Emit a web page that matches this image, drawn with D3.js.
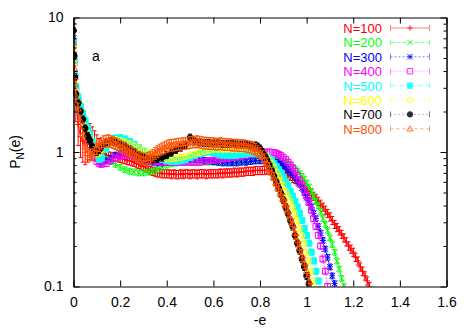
<!DOCTYPE html>
<html>
<head>
<meta charset="utf-8">
<script src="https://cdn.jsdelivr.net/npm/d3@7"></script>
<style>
body { margin: 0; background: #fff; }
text { font-family: "Liberation Sans", Arial, sans-serif; }
</style>
</head>
<body>
<svg id="chart" width="471" height="330"></svg>
<script>
// [e, P] pairs; optional third value = relative error
var n100 = [[0,9],[0.003,5.5],[0.006,3.5],[0.01,2.4,0.3],[0.02,1.6,0.3],[0.03,1.3,0.3],[0.04,1.2,0.3],[0.05,1.15,0.3],[0.06,1.2,0.3],[0.07,1.25,0.3],[0.08,1.2,0.28],[0.09,1.15,0.25],[0.10,1.1,0.22],[0.11,1.05,0.2],[0.12,1.0,0.15],
    [0.13,0.97],[0.14,0.95],[0.15,0.94],[0.16,0.93],[0.17,0.92],[0.18,0.92],[0.19,0.91],[0.20,0.9],[0.21,0.89],[0.22,0.88],[0.23,0.87],[0.24,0.86],[0.25,0.85],[0.26,0.84],[0.27,0.82],
    [0.28,0.81],[0.29,0.79],[0.30,0.78],[0.31,0.76],[0.32,0.75],[0.33,0.73],[0.34,0.72],[0.35,0.71],[0.36,0.70],[0.37,0.70],[0.38,0.69],[0.39,0.69],[0.40,0.69],[0.41,0.69],[0.42,0.68],[0.43,0.69],[0.44,0.68],[0.45,0.68],[0.46,0.69],[0.47,0.68],[0.48,0.69],[0.49,0.69],[0.50,0.68],[0.51,0.69],[0.52,0.69],[0.53,0.68],[0.54,0.69],[0.55,0.69],[0.56,0.69],[0.57,0.68],[0.58,0.69],[0.59,0.69],[0.60,0.69],[0.61,0.69],[0.62,0.69],[0.63,0.70],[0.64,0.69],[0.65,0.70],[0.66,0.70],[0.67,0.70],[0.68,0.70],[0.69,0.71],[0.70,0.70],[0.71,0.71],[0.72,0.71],[0.73,0.71],[0.74,0.72],[0.75,0.72],[0.76,0.72],[0.77,0.72],[0.78,0.73],[0.79,0.73],[0.80,0.73],[0.81,0.73],[0.82,0.73],[0.83,0.74],[0.84,0.73],[0.85,0.73],[0.86,0.73],[0.87,0.72],[0.88,0.72],[0.89,0.71],[0.90,0.70],[0.91,0.69],[0.92,0.67],[0.93,0.66],[0.94,0.64],[0.95,0.63],[0.96,0.61],[0.97,0.59],[0.98,0.57],[0.99,0.55],[1.00,0.53],[1.01,0.51],[1.02,0.49],[1.03,0.47],[1.04,0.45],[1.05,0.43],[1.06,0.41],[1.07,0.39],[1.08,0.37],[1.09,0.35],[1.10,0.33],[1.11,0.31],[1.12,0.29],[1.13,0.275],[1.14,0.26],[1.15,0.245],[1.16,0.23],[1.17,0.215],[1.18,0.20],[1.19,0.19],[1.20,0.18],[1.21,0.165],[1.22,0.155],[1.23,0.14],[1.24,0.13],[1.25,0.12],[1.26,0.11],[1.27,0.10],[1.28,0.09]];

var n200 = [[0,7.5],[0.003,5],[0.006,3.8],[0.01,3.1],[0.02,2.6],[0.03,2.2],[0.04,1.95],[0.05,1.72],[0.06,1.52],[0.07,1.34],[0.08,1.18],[0.09,1.06],[0.10,0.98],[0.11,0.93],[0.12,0.9],[0.14,0.88],[0.16,0.85],[0.18,0.81],[0.20,0.77],[0.22,0.74],[0.24,0.72],[0.26,0.71],[0.28,0.7],[0.30,0.7],[0.32,0.71],[0.34,0.72],[0.36,0.74],[0.38,0.77],[0.40,0.8],[0.42,0.82],[0.44,0.83],[0.46,0.84],[0.48,0.84],[0.50,0.84],[0.52,0.84],[0.54,0.84],[0.56,0.84],[0.58,0.84],[0.60,0.84],[0.62,0.84],[0.64,0.84],[0.66,0.84],[0.68,0.84],[0.70,0.84],[0.72,0.85],[0.74,0.85],[0.76,0.86],[0.78,0.86],[0.80,0.87],[0.82,0.87],[0.84,0.87],
    [0.86,0.87],[0.87,0.87],[0.88,0.86],[0.89,0.85],[0.90,0.84],[0.91,0.83],[0.92,0.81],[0.93,0.79],[0.94,0.77],[0.95,0.75],[0.96,0.72],[0.97,0.69],[0.98,0.66],[0.99,0.63],[1.00,0.59],[1.01,0.55],[1.02,0.51],[1.03,0.47],[1.04,0.43],[1.05,0.4],[1.06,0.36],[1.07,0.32],[1.08,0.29],[1.09,0.26],[1.10,0.23],[1.11,0.205],[1.12,0.18],[1.13,0.155],[1.14,0.135],[1.15,0.115],[1.16,0.1]];

var n300 = [[0,7],[0.003,4.9],[0.006,3.8],[0.01,3.0],[0.02,2.5],[0.03,2.15],[0.04,1.9],[0.05,1.68],[0.06,1.5],[0.07,1.32],[0.08,1.15],[0.09,1.0],[0.10,0.9],[0.11,0.85],[0.12,0.84],[0.14,0.86],[0.16,0.9],[0.18,0.95],[0.20,0.98],[0.22,0.98],[0.24,0.96],[0.26,0.93],[0.28,0.9],[0.30,0.87],[0.32,0.85],[0.34,0.84],[0.36,0.83],[0.38,0.83],[0.40,0.84],[0.42,0.85],[0.44,0.86],[0.46,0.87],[0.48,0.88],[0.50,0.88],[0.52,0.88],[0.54,0.88],[0.56,0.87],[0.58,0.86],[0.60,0.85],[0.62,0.84],[0.64,0.83],[0.66,0.83],[0.68,0.83],[0.70,0.83],[0.72,0.84],[0.74,0.84],[0.76,0.85],[0.78,0.86],[0.80,0.86],[0.82,0.86],[0.84,0.86],
    [0.86,0.85],[0.87,0.84],[0.88,0.83],[0.89,0.81],[0.90,0.79],[0.91,0.77],[0.92,0.74],[0.93,0.71],[0.94,0.68],[0.95,0.65],[0.96,0.61],[0.97,0.58],[0.98,0.54],[0.99,0.5],[1.00,0.46],[1.01,0.43],[1.02,0.39],[1.03,0.35],[1.04,0.32],[1.05,0.28],[1.06,0.25],[1.07,0.22],[1.08,0.19],[1.09,0.165],[1.10,0.14],[1.11,0.12],[1.12,0.105],[1.13,0.09]];

var n400 = [[0,6.5],[0.003,4.6],[0.006,3.6],[0.01,2.9],[0.02,2.4],[0.03,2.05],[0.04,1.8],[0.05,1.58],[0.06,1.38],[0.07,1.2],[0.08,1.04],[0.09,0.92],[0.10,0.85],[0.11,0.82],[0.12,0.81],[0.14,0.82],[0.16,0.86],[0.18,0.9],[0.20,0.93],[0.22,0.94],[0.24,0.94],[0.26,0.93],[0.28,0.91],[0.30,0.89],[0.32,0.87],[0.34,0.86],[0.36,0.85],[0.38,0.84],[0.40,0.84],[0.42,0.84],[0.44,0.84],[0.46,0.84],[0.48,0.84],[0.50,0.84],[0.52,0.84],[0.54,0.84],[0.56,0.85],[0.58,0.86],[0.60,0.87],[0.62,0.88],[0.64,0.89],[0.66,0.9],[0.68,0.91],[0.70,0.92],[0.72,0.93],[0.74,0.94],[0.76,0.96],[0.78,0.98],[0.80,0.99],[0.82,1.0],[0.84,1.0],
    [0.86,0.99],[0.87,0.98],[0.88,0.96],[0.89,0.94],[0.90,0.91],[0.91,0.88],[0.92,0.84],[0.93,0.8],[0.94,0.76],[0.95,0.72],[0.96,0.67],[0.97,0.62],[0.98,0.57],[0.99,0.52],[1.00,0.47],[1.01,0.42],[1.02,0.37],[1.03,0.32],[1.04,0.28],[1.05,0.24],[1.06,0.2],[1.07,0.16],[1.08,0.13],[1.09,0.1]];

var n500 = [[0,6.5],[0.003,4.8],[0.006,3.7],[0.01,3.0],[0.02,2.5],[0.03,2.15],[0.04,1.9],[0.05,1.7],[0.06,1.52],[0.07,1.36],[0.08,1.2],[0.09,1.05],[0.10,0.94],[0.11,0.88],[0.12,0.9],[0.14,1.05],[0.16,1.2],[0.18,1.27],[0.20,1.28],[0.22,1.25],[0.24,1.2],[0.26,1.14],[0.28,1.08],[0.30,1.02],[0.32,0.97],[0.34,0.93],[0.36,0.9],[0.38,0.88],[0.40,0.86],[0.42,0.85],[0.44,0.85],[0.46,0.86],[0.48,0.88],[0.50,0.91],[0.52,0.94],[0.54,0.97],[0.56,0.99],[0.58,1.0],[0.60,0.99],[0.62,0.97],[0.64,0.95],[0.66,0.94],[0.68,0.94],[0.70,0.95],[0.72,0.96],[0.74,0.97],[0.76,0.98],[0.78,0.98],
    [0.80,0.97],[0.81,0.96],[0.82,0.94],[0.83,0.92],[0.84,0.89],[0.85,0.86],[0.86,0.82],[0.87,0.78],[0.88,0.74],[0.89,0.7],[0.90,0.65],[0.91,0.6],[0.92,0.56],[0.93,0.51],[0.94,0.47],[0.95,0.43],[0.96,0.39],[0.97,0.35],[0.98,0.31],[0.99,0.27],[1.00,0.24],[1.01,0.21],[1.02,0.18],[1.03,0.155],[1.04,0.13],[1.05,0.11],[1.06,0.095]];

var n600 = [[0,6],[0.003,4.5],[0.006,3.5],[0.01,2.8],[0.02,2.3],[0.03,2.0],[0.04,1.75],[0.05,1.55],[0.06,1.38],[0.07,1.25],[0.08,1.12],[0.09,1.02],[0.10,0.97],[0.11,0.98],[0.12,1.04],[0.14,1.15],[0.16,1.22],[0.18,1.24],[0.20,1.22],[0.22,1.19],[0.24,1.15],[0.26,1.11],[0.28,1.07],[0.30,1.03],[0.32,0.99],[0.34,0.95],[0.36,0.92],[0.38,0.9],[0.40,0.89],[0.42,0.89],[0.44,0.9],[0.46,0.91],[0.48,0.93],[0.50,0.95],[0.52,0.97],[0.54,0.99],[0.56,1.01],[0.58,1.03],[0.60,1.05],[0.62,1.05],[0.64,1.05],[0.66,1.05],[0.68,1.05],[0.70,1.05],[0.72,1.05],[0.74,1.05],[0.76,1.05],[0.78,1.04],
    [0.80,1.02],[0.81,0.99],[0.82,0.96],[0.83,0.92],[0.84,0.87],[0.85,0.82],[0.86,0.77],[0.87,0.71],[0.88,0.66],[0.89,0.61],[0.90,0.56],[0.91,0.51],[0.92,0.47],[0.93,0.43],[0.94,0.39],[0.95,0.35],[0.96,0.31],[0.97,0.27],[0.98,0.24],[0.99,0.21],[1.00,0.18],[1.01,0.155],[1.02,0.13],[1.03,0.11],[1.04,0.095]];

var n700 = [[0,8],[0.003,5.2],[0.006,3.6],[0.01,2.7],[0.02,2.3],[0.03,2.0],[0.04,1.75],[0.05,1.5],[0.06,1.32],[0.07,1.22],[0.08,1.1],[0.09,1.02],[0.10,1.0],[0.11,1.04],[0.12,1.1],[0.14,1.17],[0.16,1.2],[0.18,1.18],[0.20,1.14],[0.22,1.1],[0.24,1.05],[0.26,1.0],[0.28,0.95],[0.30,0.92],[0.32,0.89],[0.34,0.88],[0.36,0.89],[0.38,0.91],[0.40,0.95],[0.42,0.99],[0.44,1.04],[0.46,1.08],[0.48,1.13],[0.50,1.28],[0.52,1.2],[0.54,1.18],[0.56,1.17],[0.58,1.17],[0.60,1.16],[0.62,1.16],[0.64,1.15],[0.66,1.15],[0.68,1.15],[0.70,1.14],[0.72,1.14],[0.74,1.14],[0.76,1.13],
    [0.78,1.12],[0.79,1.1],[0.80,1.06],[0.81,1.0],[0.82,0.94],[0.83,0.87],[0.84,0.8],[0.85,0.73],[0.86,0.66],[0.87,0.6],[0.88,0.54],[0.89,0.49],[0.90,0.44],[0.91,0.39],[0.92,0.35],[0.93,0.31],[0.94,0.28],[0.95,0.24],[0.96,0.21],[0.97,0.185],[0.98,0.16],[0.99,0.14],[1.00,0.12],[1.01,0.105],[1.02,0.09]];

var n800 = [[0,6.5],[0.003,4.2],[0.006,3.2],[0.01,2.6],[0.02,2.1],[0.03,1.7],[0.04,1.35],[0.05,1.1],[0.06,0.98],[0.07,0.95],[0.08,0.96],[0.09,1.0],
    [0.10,1.06],[0.11,1.12],[0.12,1.17],[0.13,1.2],[0.14,1.21],[0.15,1.22],[0.16,1.2],[0.17,1.18],[0.18,1.16],[0.19,1.14],[0.20,1.11],[0.21,1.09],[0.22,1.06],[0.23,1.04],[0.24,1.01],[0.25,0.99],[0.26,0.97],[0.27,0.94],[0.28,0.92],[0.29,0.9],[0.30,0.89],[0.31,0.89],[0.32,0.9],[0.33,0.92],[0.34,0.95],[0.35,0.98],[0.36,1.01],[0.37,1.04],[0.38,1.06],[0.39,1.08],[0.40,1.1],[0.41,1.12],[0.42,1.13],[0.43,1.13],[0.44,1.14],[0.45,1.15],[0.46,1.15],[0.47,1.16],[0.48,1.16],[0.49,1.17],[0.50,1.18],[0.51,1.19],[0.52,1.19],[0.53,1.2],[0.54,1.19],[0.55,1.18],[0.56,1.17],[0.57,1.17],[0.58,1.16],[0.59,1.16],[0.60,1.16],[0.61,1.15],[0.62,1.15],[0.63,1.16],[0.64,1.15],[0.65,1.14],[0.66,1.14],[0.67,1.14],[0.68,1.13],[0.69,1.13],[0.70,1.13],[0.71,1.12],[0.72,1.12],[0.73,1.12],[0.74,1.11],[0.75,1.1],[0.76,1.09],[0.77,1.07],[0.78,1.05],[0.79,1.02],[0.80,0.98],[0.81,0.93],[0.82,0.88],[0.83,0.82],[0.84,0.76],[0.85,0.7],[0.86,0.64],[0.87,0.58],[0.88,0.53],[0.89,0.48],[0.90,0.44],[0.91,0.4],[0.92,0.36],[0.93,0.32],[0.94,0.29],[0.95,0.25],[0.96,0.22],[0.97,0.195],[0.98,0.17],[0.99,0.15],[1.00,0.13],[1.01,0.11],[1.02,0.095]];

var seriesData = [n100, n200, n300, n400, n500, n600, n700, n800];
var labels = ["N=100", "N=200", "N=300", "N=400", "N=500", "N=600", "N=700", "N=800"];
var colors = ["#ff0000", "#00ff00", "#0000ff", "#ff00ff", "#00ffff", "#ffff00", "#000000", "#ff5000"];
var shapes = ["plus", "cross", "star", "square", "fsquare", "circle", "fcircle", "triangle"];
var dashes = [null, "4,2", "2,2", "1,2", "4,2,1,2", "3,2,1,2,1,2", "1,3", "3,3"];
var relErr = [0.07, 0.05, 0.05, 0.05, 0.05, 0.05, 0.06, 0.1];

var xTicks = [0, 0.2, 0.4, 0.6, 0.8, 1, 1.2, 1.4, 1.6];
var yTicks = [0.1, 1, 10];
var yMinor = [0.2, 0.3, 0.4, 0.5, 0.6, 0.7, 0.8, 0.9, 2, 3, 4, 5, 6, 7, 8, 9];

var plot = {left: 73.5, right: 446.5, top: 17.5, bottom: 286.5};

var x = d3.scaleLinear().domain([0, 1.6]).range([plot.left, plot.right]);
var y = d3.scaleLog().domain([0.1, 10]).range([plot.bottom, plot.top]);

var svg = d3.select("#chart");

svg.append("defs").append("clipPath").attr("id", "clip")
    .append("rect")
    .attr("x", plot.left).attr("y", plot.top)
    .attr("width", plot.right - plot.left).attr("height", plot.bottom - plot.top);

function symbolPath(shape, s) {
    let plus = `M${-s},0H${s}M0,${-s}V${s}`;
    let cross = `M${-s},${-s}L${s},${s}M${-s},${s}L${s},${-s}`;
    let box = `M${-s},${-s}H${s}V${s}H${-s}Z`;
    let circ = `M${s},0A${s},${s} 0 1,1 ${-s},0A${s},${s} 0 1,1 ${s},0Z`;
    let tri = `M0,${-s * 1.15}L${s * 1.1},${s * 0.8}L${-s * 1.1},${s * 0.8}Z`;
    switch (shape) {
    case "plus": return plus;
    case "cross": return cross;
    case "star": return plus + cross;
    case "square": case "fsquare": return box;
    case "circle": case "fcircle": return circ;
    case "triangle": return tri;
    }
}
function isFilled(shape) {
    return shape == "fsquare" || shape == "fcircle";
}

// data
var g = svg.append("g").attr("clip-path", "url(#clip)");
var line = d3.line().x(d => x(d[0])).y(d => y(d[1]));

seriesData.forEach(function(data, i) {
    let c = colors[i];
    let sg = g.append("g").attr("class", "series");
    sg.append("path")
        .attr("d", line(data))
        .attr("fill", "none")
        .attr("stroke", c)
        .attr("stroke-width", 1)
        .attr("stroke-dasharray", dashes[i]);
    let bars = sg.selectAll("g.err")
        .data(data)
        .enter()
        .append("g")
        .attr("class", "err")
        .attr("stroke", c)
        .attr("stroke-width", 1);
    bars.append("line")
        .attr("x1", d => x(d[0])).attr("x2", d => x(d[0]))
        .attr("y1", d => y(d[1] * (1 - (d[2] || relErr[i]))))
        .attr("y2", d => y(d[1] * (1 + (d[2] || relErr[i]))));
    [-1, 1].forEach(function(sgn) {
        bars.append("line")
            .attr("x1", d => x(d[0]) - 2).attr("x2", d => x(d[0]) + 2)
            .attr("y1", d => y(d[1] * (1 + sgn * (d[2] || relErr[i]))))
            .attr("y2", d => y(d[1] * (1 + sgn * (d[2] || relErr[i]))));
    });
    sg.selectAll("path.pt")
        .data(data)
        .enter()
        .append("path")
        .attr("class", "pt")
        .attr("d", symbolPath(shapes[i], 2.9))
        .attr("transform", d => `translate(${x(d[0])},${y(d[1])})`)
        .attr("fill", isFilled(shapes[i]) ? c : "none")
        .attr("stroke", c)
        .attr("stroke-width", 1);
});

// axes
function styleAxis(sel) {
    sel.attr("font-size", 14).attr("font-family", "Liberation Sans, Arial, sans-serif");
    sel.selectAll("text").attr("fill", "#000");
    sel.selectAll(".domain").attr("stroke", "#000");
    sel.selectAll(".tick line").attr("stroke", "#000");
}

svg.append("g")
    .attr("transform", `translate(0,${plot.bottom})`)
    .call(d3.axisBottom(x).tickValues(xTicks).tickSizeInner(-6).tickSizeOuter(0).tickPadding(11).tickFormat(d3.format("")))
    .call(styleAxis);
svg.append("g")
    .attr("transform", `translate(0,${plot.top})`)
    .call(d3.axisTop(x).tickValues(xTicks).tickSizeInner(-6).tickSizeOuter(0).tickFormat(""))
    .call(styleAxis);
svg.append("g")
    .attr("transform", `translate(${plot.left},0)`)
    .call(d3.axisLeft(y).tickValues(yTicks).tickSizeInner(-6).tickSizeOuter(0).tickPadding(10).tickFormat(d3.format("")))
    .call(styleAxis);
svg.append("g")
    .attr("transform", `translate(${plot.right},0)`)
    .call(d3.axisRight(y).tickValues(yTicks).tickSizeInner(-6).tickSizeOuter(0).tickFormat(""))
    .call(styleAxis);
svg.append("g")
    .attr("transform", `translate(${plot.left},0)`)
    .call(d3.axisLeft(y).tickValues(yMinor).tickSizeInner(-3).tickSizeOuter(0).tickFormat(""))
    .call(styleAxis);
svg.append("g")
    .attr("transform", `translate(${plot.right},0)`)
    .call(d3.axisRight(y).tickValues(yMinor).tickSizeInner(-3).tickSizeOuter(0).tickFormat(""))
    .call(styleAxis);

// axis titles
svg.append("text")
    .attr("x", (plot.left + plot.right) / 2)
    .attr("y", 325)
    .attr("text-anchor", "middle")
    .attr("font-size", 14)
    .text("-e");

var ylab = svg.append("text")
    .attr("transform", "translate(20,152) rotate(-90)")
    .attr("text-anchor", "middle")
    .attr("font-size", 14);
ylab.append("tspan").text("P");
ylab.append("tspan").attr("font-size", 10).attr("dy", 4).text("N");
ylab.append("tspan").attr("dy", -4).text("(e)");

svg.append("text")
    .attr("x", 92)
    .attr("y", 61)
    .attr("font-size", 14)
    .text("a");

// legend
var legend = svg.append("g");
labels.forEach(function(name, i) {
    let base = 33 + i * 14.4;
    let ly = base - 5;
    let c = colors[i];
    legend.append("text")
        .attr("x", 382)
        .attr("y", base)
        .attr("text-anchor", "end")
        .attr("font-size", 13)
        .attr("fill", c)
        .text(name);
    let lg = legend.append("g")
        .attr("stroke", c)
        .attr("stroke-width", 1)
        .attr("opacity", 0.5);
    lg.append("line")
        .attr("x1", 390.5).attr("x2", 429.5)
        .attr("y1", ly).attr("y2", ly)
        .attr("stroke-dasharray", dashes[i]);
    [390.5, 429.5].forEach(function(px) {
        lg.append("line")
            .attr("x1", px).attr("x2", px)
            .attr("y1", ly - 3).attr("y2", ly + 3);
    });
    legend.append("path")
        .attr("d", symbolPath(shapes[i], 2.7))
        .attr("transform", `translate(410,${ly})`)
        .attr("fill", isFilled(shapes[i]) ? c : "none")
        .attr("stroke", c)
        .attr("opacity", 0.8);
});
</script>
</body>
</html>
